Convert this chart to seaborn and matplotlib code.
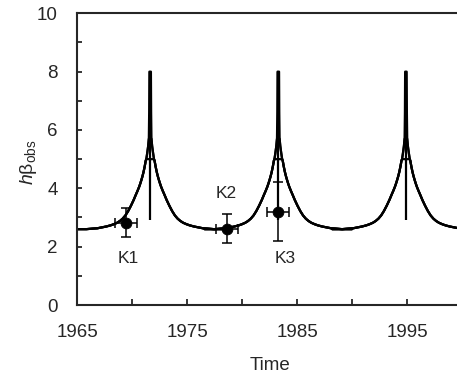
import numpy as np
import pandas as pd
import seaborn as sns
import matplotlib.pyplot as plt

# years at which the model curves peak
peak_years = [1971.65, 1983.3, 1994.9]
dip_level = 2.9  # bottom of the vertical line at each peak

# shared flank of the curves: distance from the peak (years) vs h*beta
tail_dist = [0.4, 0.5, 0.6, 0.7, 0.8, 0.9, 1.0, 1.15, 1.3, 1.5, 1.75, 2.0, 2.25,
             2.5, 2.75, 3.0, 3.3, 3.6, 4.0, 4.4, 4.8, 5.2, 5.8, 6.7]
tail_level = [4.95, 4.74, 4.56, 4.41, 4.28, 4.16, 4.05, 3.91, 3.78, 3.6, 3.4, 3.22, 3.07,
              2.96, 2.88, 2.82, 2.77, 2.73, 2.69, 2.66, 2.63, 2.62, 2.6, 2.6]

# tops of the three curves
low_top_dist = [0.0, 0.35]
low_top_level = [5.0, 5.0]
mid_top_dist = [0.0, 0.12, 0.18, 0.27, 0.35]
mid_top_level = [5.7, 5.7, 5.45, 5.2, 5.0]
high_top_dist = [0.0, 0.07, 0.09, 0.12, 0.18, 0.27, 0.35]
high_top_level = [8.0, 8.0, 6.6, 5.7, 5.45, 5.2, 5.0]

# observations
obs_time = [1969.45, 1978.6, 1983.25]
obs_value = [2.82, 2.62, 3.2]
obs_time_err = [1.0, 1.0, 1.0]
obs_value_err = [0.5, 0.5, 1.0]
obs_labels = ['K1', 'K2', 'K3']
label_offset = [(2, -36), (0, 35), (7, -47)]  # pixels from the point

# build the curve table
tops = {'low': (low_top_dist, low_top_level),
        'mid': (mid_top_dist, mid_top_level),
        'high': (high_top_dist, high_top_level)}
rows = []
for k, py in enumerate(peak_years):
    for name, (td, tl) in tops.items():
        d = np.array(td + tail_dist)
        v = np.array(tl + tail_level)
        t = np.concatenate([py - d[::-1], py + d])
        vals = np.concatenate([v[::-1], v])
        for ti, vi in zip(t, vals):
            rows.append({'time': ti, 'value': vi, 'curve': f'{name}{k}'})
curves = pd.DataFrame(rows)

sns.set_style('ticks')
plt.rcParams['font.family'] = ['Liberation Sans', 'DejaVu Sans']
plt.rcParams['mathtext.fontset'] = 'custom'
plt.rcParams['mathtext.rm'] = 'Liberation Sans'
plt.rcParams['mathtext.it'] = 'Liberation Sans:italic'

fig = plt.figure(figsize=(4.57, 3.77), dpi=100)
ax = fig.add_axes([77 / 457, 1 - 305 / 377, 385 / 457, (305 - 13.3) / 377])

sns.lineplot(data=curves, x='time', y='value', units='curve', estimator=None, sort=False,
             color='black', linewidth=1.6, ax=ax)
ax.vlines(peak_years, dip_level, 8.0, color='black', linewidth=1.6)

ax.errorbar(obs_time, obs_value, xerr=obs_time_err, yerr=obs_value_err, fmt='none',
            ecolor='black', elinewidth=1.1, capsize=3.5, capthick=1.1)
sns.scatterplot(x=obs_time, y=obs_value, color='black', s=60, edgecolor='black', zorder=5, ax=ax)

for t, v, lab, off in zip(obs_time, obs_value, obs_labels, label_offset):
    ax.annotate(lab, (t, v), xytext=off, textcoords='offset pixels', ha='center', va='center',
                fontsize=12.5)

ax.set_xlim(1965, 2000)
ax.set_ylim(0, 10)
ax.set_xticks(np.arange(1965, 2001, 5))
ax.set_xticklabels(['1965', '', '1975', '', '1985', '', '1995', ''])
ax.set_yticks(np.arange(0, 11, 1))
ax.set_yticklabels(['0', '', '2', '', '4', '', '6', '', '8', '', '10'])
ax.tick_params(axis='x', direction='in', length=4.3, width=1.3, labelsize=13.5, pad=14)
ax.tick_params(axis='y', direction='in', length=3.6, width=1.3, labelsize=13.5, pad=14)
for s in ['left', 'bottom', 'top']:
    ax.spines[s].set_linewidth(1.5)
ax.spines['right'].set_visible(False)

ax.set_xlabel('Time', fontsize=13.5, labelpad=11)
ax.set_ylabel(r'$\mathit{h}$β$_{\mathrm{obs}}$', fontsize=14, va='center')
ax.yaxis.set_label_coords(-0.127, 0.49)

fig.savefig('out.png', dpi=100)
